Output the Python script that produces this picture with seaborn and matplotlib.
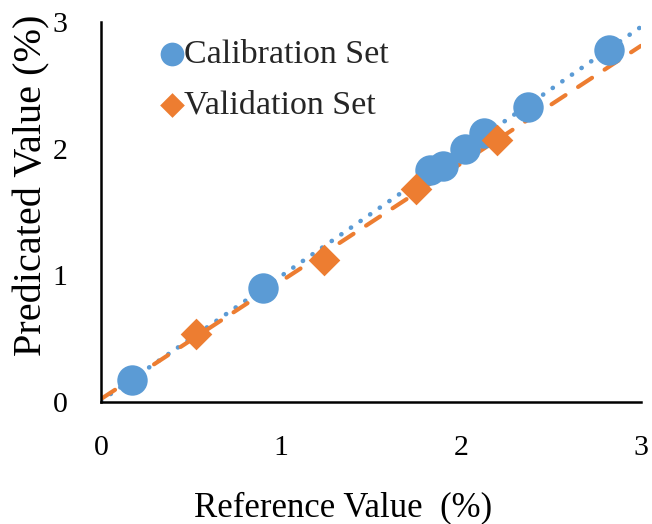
import numpy as np
import pandas as pd
import matplotlib
matplotlib.use("Agg")
import matplotlib.pyplot as plt
import seaborn as sns

# Data
cal_x = [0.17, 0.90, 1.83, 1.90, 2.02, 2.13, 2.37, 2.82]
cal_y = [0.17, 0.90, 1.83, 1.86, 2.00, 2.12, 2.33, 2.78]
val_x = [0.53, 1.24, 1.75, 2.20]
val_y = [0.54, 1.12, 1.68, 2.07]
ticks = [0, 1, 2, 3]
tick_labels = ["0", "1", "2", "3"]

sns.set_theme(style="white")
plt.rcParams['font.family'] = ['Liberation Serif', 'DejaVu Serif']

blue = "#5B9BD5"
orange = "#ED7D31"

fig = plt.figure(figsize=(6.52, 5.24), dpi=100)
ax = fig.add_axes([0.155, 0.233, 0.828, 0.725])

# Trend lines (linear fits of each set)
xs = np.array([0.0, 3.0])
pc = np.polyfit(cal_x, cal_y, 1)
pv = np.polyfit(val_x, val_y, 1)
ax.plot(xs, np.polyval(pc, xs), color=blue, lw=3.3, ls=(0, (0.05, 2.5)),
        dash_capstyle="round", zorder=1)
ax.plot(xs, np.polyval(pv, xs), color=orange, lw=3.0, ls=(0, (4, 3.6)),
        dash_capstyle="round", zorder=1)

cal = pd.DataFrame({"x": cal_x, "y": cal_y})
val = pd.DataFrame({"x": val_x, "y": val_y})
sns.scatterplot(data=cal, x="x", y="y", ax=ax, color=blue, marker="o",
                s=480, linewidth=0, label="Calibration Set", zorder=3)
sns.scatterplot(data=val, x="x", y="y", ax=ax, color=orange, marker="D",
                s=260, linewidth=0, label="Validation Set", zorder=4)

ax.set_xlim(0, 3)
ax.set_ylim(0, 3)
ax.set_xticks(ticks)
ax.set_xticklabels(tick_labels)
ax.set_yticks(ticks)
ax.set_yticklabels(tick_labels)
ax.tick_params(axis="both", direction="in", length=7, width=1.5,
               labelsize=21.5, colors="black")
ax.tick_params(axis="x", pad=24)
ax.tick_params(axis="y", pad=24)
for s in ["top", "right"]:
    ax.spines[s].set_visible(False)
for s in ["left", "bottom"]:
    ax.spines[s].set_color("black")
    ax.spines[s].set_linewidth(1.8)

ax.set_xlabel("Reference Value  (%)", fontsize=25, color="black")
ax.xaxis.set_label_coords(0.448, -0.235)
ax.set_ylabel("Predicated Value (%)", fontsize=29, color="black")
ax.yaxis.set_label_coords(-0.094, 0.571)

leg = ax.legend(loc="upper left", bbox_to_anchor=(0.113, 0.955), frameon=False,
                fontsize=24.5, handlelength=0.6, handletextpad=0.05,
                labelspacing=0.58, markerscale=0.78, borderaxespad=0,
                borderpad=0)

fig.savefig("out.png", dpi=100)
